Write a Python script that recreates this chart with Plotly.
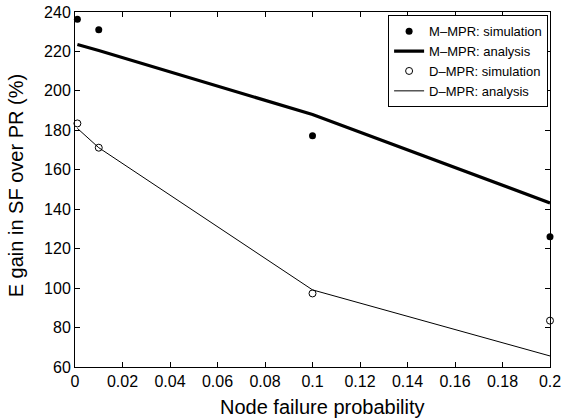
import plotly.graph_objects as go

# Data
x_sim = [0.001, 0.01, 0.1, 0.2]
m_sim = [236.3, 231.0, 177.2, 126.0]
d_sim = [183.5, 171.2, 97.3, 83.5]

x_ana = [0.001, 0.01, 0.1, 0.2]
m_ana = [223.5, 220.5, 188.0, 143.2]
d_ana = [181.0, 171.2, 99.1, 65.6]

x_ticks = [0, 0.02, 0.04, 0.06, 0.08, 0.1, 0.12, 0.14, 0.16, 0.18, 0.2]
y_ticks = [60, 80, 100, 120, 140, 160, 180, 200, 220, 240]

x_title = "Node failure probability"
y_title = "E gain in SF over PR (%)"

FONT = "Liberation Sans, Arial, Helvetica, sans-serif"

fig = go.Figure()
fig.add_trace(go.Scatter(x=x_sim, y=m_sim, mode="markers", name="M\u2013MPR: simulation",
                         marker=dict(symbol="circle", size=7, color="black"), cliponaxis=False))
fig.add_trace(go.Scatter(x=x_ana, y=m_ana, mode="lines", name="M\u2013MPR: analysis",
                         line=dict(color="black", width=3.2)))
fig.add_trace(go.Scatter(x=x_sim, y=d_sim, mode="markers", name="D\u2013MPR: simulation",
                         marker=dict(symbol="circle-open", size=7, color="black", line=dict(width=1)),
                         cliponaxis=False))
fig.add_trace(go.Scatter(x=x_ana, y=d_ana, mode="lines", name="D\u2013MPR: analysis",
                         line=dict(color="black", width=1)))

axis_common = dict(showline=True, linecolor="black", linewidth=1, mirror="ticks",
                   ticks="inside", ticklen=5, tickcolor="black", tickwidth=1,
                   showgrid=False, zeroline=False,
                   tickfont=dict(family=FONT, size=16, color="black"))

fig.update_xaxes(range=[0, 0.2], tickvals=x_ticks,
                 ticktext=[("%g" % v) for v in x_ticks], **axis_common)
fig.update_yaxes(range=[60, 240], tickvals=y_ticks, **axis_common)

title_font = dict(family=FONT, size=20, color="black")
fig.add_annotation(text=x_title, xref="paper", yref="paper", x=0.5215, y=-0.113,
                   xanchor="center", yanchor="middle", showarrow=False, font=title_font)
fig.add_annotation(text=y_title, xref="paper", yref="paper", x=-0.1235, y=0.51,
                   xanchor="center", yanchor="middle", textangle=-90, showarrow=False,
                   font=title_font)

fig.update_layout(
    width=565, height=420,
    margin=dict(l=75, r=15, t=12, b=53, autoexpand=False),
    paper_bgcolor="white", plot_bgcolor="white",
    font=dict(family=FONT, color="black"),
    legend=dict(x=0.996, y=0.991, xanchor="right", yanchor="top",
                bgcolor="white", bordercolor="black", borderwidth=1,
                font=dict(family=FONT, size=13, color="black"),
                tracegroupgap=0, itemwidth=30),
)

fig.write_html("out.html")
